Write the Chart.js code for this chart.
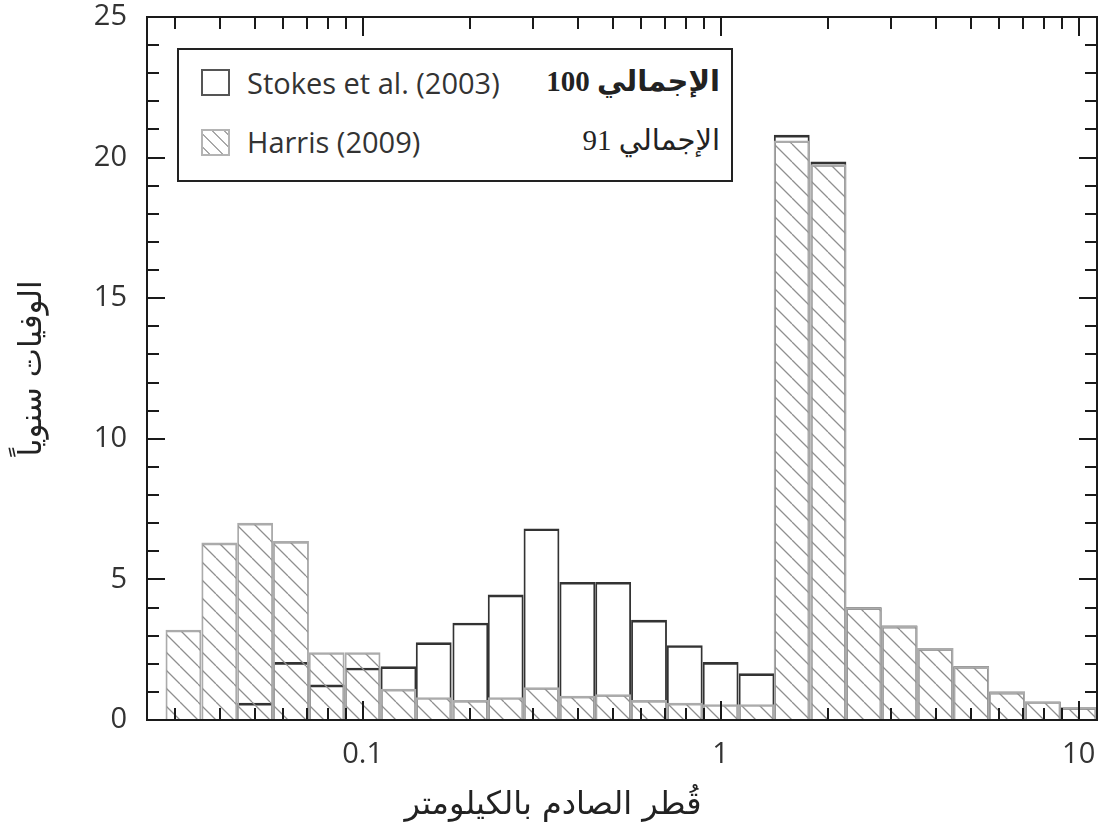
<!DOCTYPE html>
<html lang="ar">
<head>
<meta charset="utf-8">
<title>الوفيات سنوياً حسب قطر الصادم</title>
<script src="https://cdn.jsdelivr.net/npm/chart.js@4.4.1/dist/chart.umd.min.js"></script>
<style>
  html, body { margin: 0; padding: 0; background: #fff; }
  #wrap { position: relative; width: 1104px; height: 840px; }
  #legend {
    position: absolute; left: 177px; top: 48px; width: 552px; height: 130px;
    border: 2px solid #222; background: #fff;
  }
  .sw { position: absolute; left: 22px; width: 25px; height: 23px; border: 2px solid #555; }
  .sw.hatched {
    border-color: #b4b4b4;
    background: repeating-linear-gradient(45deg, #fff 0 4px, #a8a8a8 4px 5.5px, #fff 5.5px 9px);
  }
  .lbl { position: absolute; height: 36px; line-height: 36px; font-size: 29px; white-space: nowrap; }
  .en { left: 68px; font-family: "Open Sans", sans-serif; color: #333; }
  .ar { right: 11px; font-family: "Liberation Serif", "DejaVu Sans", serif; color: #222; direction: rtl; }
  #xtitle {
    position: absolute; left: 353px; width: 400px; top: 783px; height: 40px; line-height: 40px;
    text-align: center; font-family: "DejaVu Sans", sans-serif; font-size: 32px; color: #222; direction: rtl;
  }
</style>
</head>
<body>
<div id="wrap">
  <canvas id="chart" width="1104" height="840"></canvas>
  <div id="legend">
    <div class="sw" style="top:19px"></div>
    <div class="lbl en" style="top:15px">Stokes et al. (2003)</div>
    <div class="lbl ar" style="top:13px; font-weight:bold">الإجمالي 100</div>
    <div class="sw hatched" style="top:79px"></div>
    <div class="lbl en" style="top:74px">Harris (2009)</div>
    <div class="lbl ar" style="top:72px">الإجمالي 91</div>
  </div>
  <div id="xtitle">قُطر الصادم بالكيلومتر</div>
</div>
<script>
// bin centres (km) - log spaced, one bar per bin
const diameters = [0.0316, 0.0398, 0.0501, 0.0631, 0.0794, 0.1, 0.126, 0.158, 0.2, 0.251, 0.316, 0.398, 0.501,
                   0.631, 0.794, 1, 1.26, 1.58, 2, 2.51, 3.16, 3.98, 5.01, 6.31, 7.94, 10];
const stokes = [0, 0, 0.6, 2.05, 1.25, 1.85, 1.9, 2.75, 3.45, 4.45, 6.8, 4.9, 4.9,
                3.55, 2.65, 2.05, 1.65, 20.8, 19.85, 4.0, 3.35, 2.55, 1.9, 1.0, 0.65, 0.45];
const harris = [3.2, 6.3, 7.0, 6.35, 2.4, 2.4, 1.1, 0.8, 0.7, 0.8, 1.15, 0.85, 0.9,
                0.7, 0.6, 0.55, 0.55, 20.6, 19.75, 4.0, 3.35, 2.55, 1.9, 1.0, 0.65, 0.45];
const xTickValues = [0.1, 1, 10];
const xMin = 0.025, xMax = 11.25;
const yMin = 0, yMax = 25, yStep = 5;

const canvas = document.getElementById('chart');
const ctx = canvas.getContext('2d');

function hatchPattern(color) {
    const s = 18;
    const tile = document.createElement('canvas');
    tile.width = tile.height = s;
    const g = tile.getContext('2d');
    g.strokeStyle = color;
    g.lineWidth = 1.3;
    g.beginPath();
    for (let k = -1; k <= 1; k++) {
        g.moveTo(k * s, 0);
        g.lineTo(k * s + s, s);
    }
    g.stroke();
    return ctx.createPattern(tile, 'repeat');
}

// frame with inward ticks on all four sides
const frameTicks = {
    id: 'frameTicks',
    afterDatasetsDraw(chart) {
        const { ctx, chartArea: a, scales: { x, y } } = chart;
        ctx.save();
        ctx.strokeStyle = '#1a1a1a';
        ctx.lineWidth = 2;
        ctx.beginPath();
        for (let v = yMin; v <= yMax; v++) {
            const py = Math.round(y.getPixelForValue(v));
            const len = v % yStep === 0 ? 18 : 12;
            ctx.moveTo(a.left, py); ctx.lineTo(a.left + len, py);
            ctx.moveTo(a.right, py); ctx.lineTo(a.right - len, py);
        }
        [0.01, 0.1, 1, 10].forEach(d => {
            for (let m = 1; m <= 9; m++) {
                const v = m * d;
                if (v < xMin || v > xMax) continue;
                const px = Math.round(x.getPixelForValue(v));
                const len = m === 1 ? 19 : 12;
                ctx.moveTo(px, a.top); ctx.lineTo(px, a.top + len);
                ctx.moveTo(px, a.bottom); ctx.lineTo(px, a.bottom - len);
            }
        });
        ctx.stroke();
        ctx.strokeRect(a.left, a.top, a.right - a.left, a.bottom - a.top);
        ctx.restore();
    }
};

const tickFont = { family: '"Open Sans", sans-serif', size: 29 };
const titleFont = { family: '"DejaVu Sans", sans-serif', size: 31 };

new Chart(ctx, {
    type: 'bar',
    data: {
        labels: diameters,
        datasets: [
            {
                label: 'Harris (2009)',
                data: harris,
                backgroundColor: hatchPattern('#8f8f8f'),
                borderColor: '#ababab',
                borderWidth: { top: 2, left: 1.2, right: 1.2, bottom: 0 },
                grouped: false,
                order: 1,
            },
            {
                label: 'Stokes et al. (2003)',
                data: stokes,
                backgroundColor: 'rgba(0,0,0,0)',
                borderColor: '#333',
                borderWidth: { top: 2, left: 1.2, right: 1.2, bottom: 0 },
                grouped: false,
                order: 2,
            },
        ],
    },
    options: {
        responsive: false,
        animation: false,
        devicePixelRatio: 1,
        categoryPercentage: 1,
        barPercentage: 1,
        layout: { padding: { top: 17, right: 7, left: 0, bottom: 0 } },
        plugins: { legend: { display: false }, tooltip: { enabled: false } },
        scales: {
            x: {
                type: 'logarithmic',
                min: xMin,
                max: xMax,
                offset: false,
                bounds: 'data',
                grid: { display: false, drawTicks: false, offset: false },
                border: { display: false },
                afterBuildTicks: scale => { scale.ticks = xTickValues.map(v => ({ value: v })); },
                afterFit: scale => { scale.height = 120; scale.paddingLeft = 0; scale.paddingRight = 0; },
                ticks: {
                    font: tickFont,
                    color: '#333',
                    padding: 17,
                    maxRotation: 0,
                    autoSkip: false,
                    callback: v => String(v),
                },
            },
            y: {
                min: yMin,
                max: yMax,
                grid: { display: false, drawTicks: false },
                border: { display: false },
                afterFit: scale => { scale.width = 147; scale.paddingTop = 0; scale.paddingBottom = 0; },
                ticks: { stepSize: yStep, font: tickFont, color: '#333', padding: 20 },
                title: {
                    display: true,
                    text: 'الوفيات سنوياً',
                    font: titleFont,
                    color: '#222',
                    padding: { top: 14, bottom: 0 },
                },
            },
        },
    },
    plugins: [frameTicks],
});
</script>
</body>
</html>
